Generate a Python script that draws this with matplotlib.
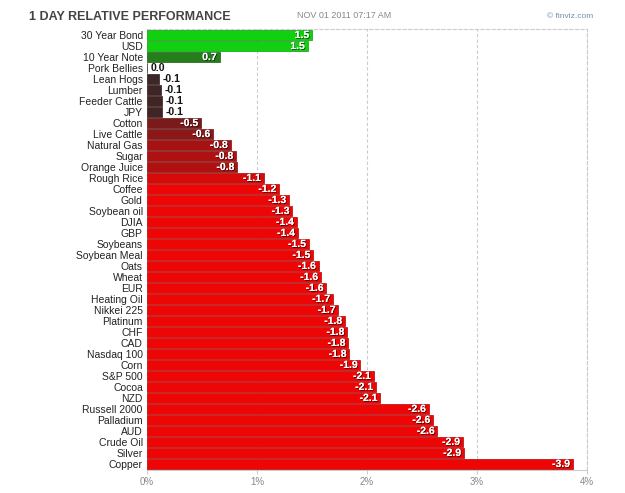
import numpy as np
import matplotlib
matplotlib.use("Agg")
import matplotlib.pyplot as plt
import matplotlib.patheffects as pe
from matplotlib.colors import to_rgb

# ข้อมูล: 1 day relative performance (%)
names = ["30 Year Bond", "USD", "10 Year Note", "Pork Bellies", "Lean Hogs", "Lumber",
         "Feeder Cattle", "JPY", "Cotton", "Live Cattle", "Natural Gas", "Sugar",
         "Orange Juice", "Rough Rice", "Coffee", "Gold", "Soybean oil", "DJIA", "GBP",
         "Soybeans", "Soybean Meal", "Oats", "Wheat", "EUR", "Heating Oil", "Nikkei 225",
         "Platinum", "CHF", "CAD", "Nasdaq 100", "Corn", "S&P 500", "Cocoa", "NZD",
         "Russell 2000", "Palladium", "AUD", "Crude Oil", "Silver", "Copper"]
values = [1.50, 1.46, 0.66, 0.0, -0.11, -0.13, -0.14, -0.14, -0.49, -0.60, -0.76, -0.81,
          -0.82, -1.06, -1.20, -1.29, -1.32, -1.36, -1.37, -1.47, -1.51, -1.56, -1.58,
          -1.63, -1.69, -1.74, -1.80, -1.82, -1.83, -1.84, -1.94, -2.06, -2.08, -2.12,
          -2.56, -2.60, -2.64, -2.87, -2.88, -3.87]
xticks = [0, 1, 2, 3, 4]
xticklabels = ["0%", "1%", "2%", "3%", "4%"]

plt.rcParams['font.family'] = ['Liberation Sans', 'DejaVu Sans']

dark = np.array(to_rgb("#3a2626"))
green = np.array(to_rgb("#10d010"))
red = np.array(to_rgb("#ee0505"))


def bar_color(v):
    # ยิ่งค่ามาก สียิ่งสด
    t = np.clip((abs(v) - 0.1) / 1.1, 0, 1)
    full = green if v > 0 else red
    return dark + (full - dark) * t


fig = plt.figure(figsize=(6.25, 4.93), dpi=100)
ax = fig.add_axes([147 / 625, 1 - 470 / 493, 440 / 625, 441 / 493])

y = np.arange(len(names))
mags = np.abs(values)
colors = [bar_color(v) for v in values]
edges = [c * 0.75 for c in colors]
ax.barh(y, mags, height=0.86, color=colors, edgecolor=edges, linewidth=0.5, zorder=3)

shadow = [pe.withSimplePatchShadow(offset=(0.6, -0.6), shadow_rgbFace='black', alpha=0.7),
          pe.Normal()]
for yi, v, m in zip(y, values, mags):
    txt = f"{v:.1f}"
    if m >= 0.3:
        ax.annotate(txt, (m, yi), xytext=(-2, 0), textcoords='offset points',
                    ha='right', va='center', color='white', fontsize=7.5,
                    fontweight='bold', path_effects=shadow, zorder=4)
    else:
        ax.annotate(txt, (m, yi), xytext=(2.5, 0), textcoords='offset points',
                    ha='left', va='center', color='#111111', fontsize=7.5,
                    fontweight='bold', zorder=4)

ax.set_xlim(0, 4)
ax.set_ylim(len(names) - 0.45, -0.55)
ax.set_yticks(y)
ax.set_yticklabels(names, fontsize=7.5, color='#222222')
ax.tick_params(axis='y', length=0, pad=3)
ax.set_xticks(xticks)
ax.set_xticklabels(xticklabels, fontsize=7, color='#888888')
ax.tick_params(axis='x', length=3, color='#cccccc', pad=2)

ax.grid(axis='x', linestyle=(0, (3, 2)), color='#cccccc', linewidth=0.8, zorder=0)
ax.spines['left'].set_visible(False)
ax.spines['top'].set_linestyle((0, (3, 2)))
ax.spines['top'].set_color('#cccccc')
ax.spines['right'].set_linestyle((0, (3, 2)))
ax.spines['right'].set_color('#cccccc')
ax.spines['bottom'].set_color('#cccccc')

fig.text(29 / 625, 1 - 17 / 493, "1 DAY RELATIVE PERFORMANCE", fontsize=9,
         fontweight='bold', color='#444444', va='center', ha='left')
fig.text(297 / 625, 1 - 16 / 493, "NOV 01 2011 07:17 AM", fontsize=6.5,
         color='#888888', va='center', ha='left')
fig.text(593 / 625, 1 - 16 / 493, "\u00a9 finviz.com", fontsize=6,
         color='#6f90b0', va='center', ha='right')

fig.savefig("out.png", dpi=100)
